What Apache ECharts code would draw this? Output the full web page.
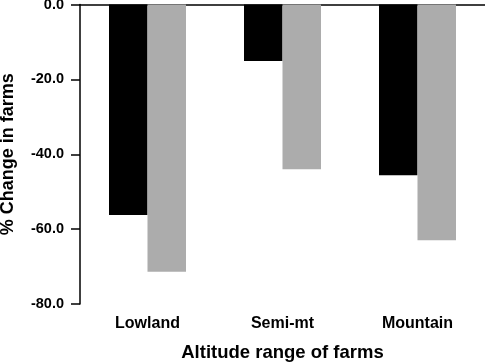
<!DOCTYPE html>
<html><head><meta charset="utf-8">
<script src="https://cdn.jsdelivr.net/npm/echarts@6/dist/echarts.min.js"></script>
<style>html,body{margin:0;padding:0;background:#fff}#c{width:485px;height:362px}</style>
</head><body><div id="c"></div>
<script>
var categories = ['Lowland', 'Semi-mt', 'Mountain'];
var seriesBlack = [-56.2, -15.1, -45.6];
var seriesGray = [-71.4, -44.0, -63.0];
var yTicks = [0, -20, -40, -60, -80];

var FONT = '"Liberation Sans", Arial, sans-serif';
var chart = echarts.init(document.getElementById('c'), null, {renderer: 'canvas'});
chart.setOption({
  animation: false,
  backgroundColor: '#fff',
  grid: {left: 80, right: 0, top: 4.5, bottom: 58, containLabel: false, outerBoundsMode: 'none'},
  xAxis: [{
    type: 'category', data: categories, position: 'bottom',
    axisLine: {show: false}, axisTick: {show: false},
    axisLabel: {color: '#000', fontFamily: FONT, fontWeight: 'bold', fontSize: 16, margin: 12},
    name: 'Altitude range of farms', nameLocation: 'middle', nameGap: 39,
    nameTextStyle: {color: '#000', fontFamily: FONT, fontWeight: 'bold', fontSize: 18.5}
  }, {
    type: 'category', data: categories, position: 'top',
    axisLine: {show: true, onZero: false, lineStyle: {color: '#000', width: 1.5}},
    axisTick: {show: false}, axisLabel: {show: false}
  }],
  yAxis: {
    type: 'value', min: -80, max: 0, interval: 20,
    axisLine: {show: true, lineStyle: {color: '#000', width: 1.5}},
    axisTick: {show: true, length: 9, lineStyle: {color: '#000', width: 1.5}},
    splitLine: {show: false},
    axisLabel: {color: '#000', fontFamily: FONT, fontWeight: 'bold', fontSize: 14.5, margin: 16,
      formatter: function (v) { return yTicks.indexOf(v) >= 0 ? v.toFixed(1) : ''; }},
    name: '% Change in farms', nameLocation: 'middle', nameGap: 63, nameRotate: 90,
    nameTextStyle: {color: '#000', fontFamily: FONT, fontWeight: 'bold', fontSize: 18}
  },
  series: [{
    type: 'bar', data: seriesBlack, barWidth: 38.5, barGap: '0%',
    itemStyle: {color: '#000'}
  }, {
    type: 'bar', data: seriesGray, barWidth: 38.5, barGap: '0%',
    itemStyle: {color: '#acacac'}
  }]
});
</script></body></html>
